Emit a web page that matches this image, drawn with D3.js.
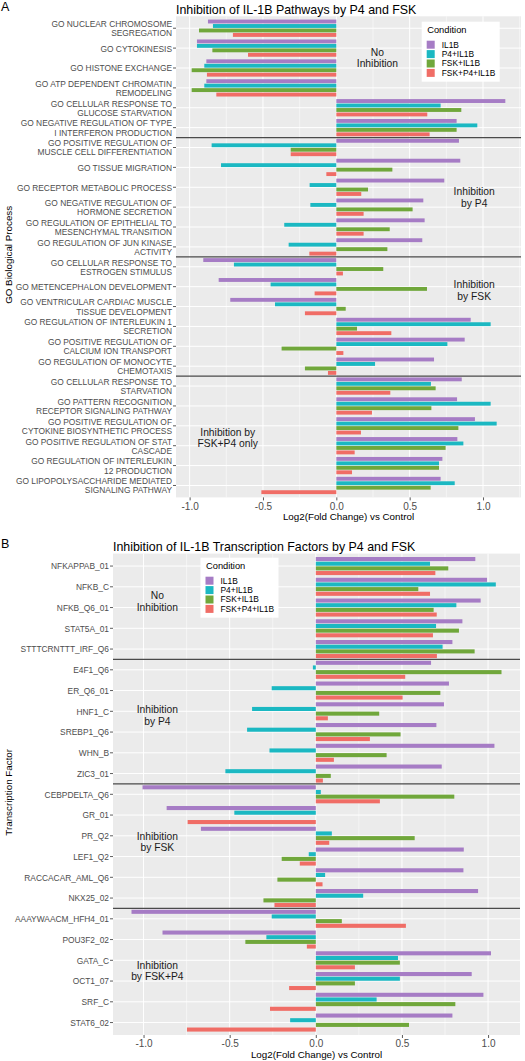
<!DOCTYPE html>
<html><head><meta charset="utf-8">
<script src="https://cdn.jsdelivr.net/npm/d3@7"></script>
<style>
body{margin:0;background:#fff}
svg{display:block}
text{font-family:"Liberation Sans",Arial,Helvetica,sans-serif}
</style>
</head><body>
<svg id="chart" width="525" height="1061"></svg>
<script>
// ---------------- DATA ----------------
const conditions = ["IL1B", "P4+IL1B", "FSK+IL1B", "FSK+P4+IL1B"];
const conditionColors = ["#A67CC5", "#1BB8C2", "#70A73B", "#F06D66"];

const categoriesA = [
  "GO NUCLEAR CHROMOSOME\nSEGREGATION",
  "GO CYTOKINESIS",
  "GO HISTONE EXCHANGE",
  "GO ATP DEPENDENT CHROMATIN\nREMODELING",
  "GO CELLULAR RESPONSE TO\nGLUCOSE STARVATION",
  "GO NEGATIVE REGULATION OF TYPE\nI INTERFERON PRODUCTION",
  "GO POSITIVE REGULATION OF\nMUSCLE CELL DIFFERENTIATION",
  "GO TISSUE MIGRATION",
  "GO RECEPTOR METABOLIC PROCESS",
  "GO NEGATIVE REGULATION OF\nHORMONE SECRETION",
  "GO REGULATION OF EPITHELIAL TO\nMESENCHYMAL TRANSITION",
  "GO REGULATION OF JUN KINASE\nACTIVITY",
  "GO CELLULAR RESPONSE TO\nESTROGEN STIMULUS",
  "GO METENCEPHALON DEVELOPMENT",
  "GO VENTRICULAR CARDIAC MUSCLE\nTISSUE DEVELOPMENT",
  "GO REGULATION OF INTERLEUKIN 1\nSECRETION",
  "GO POSITIVE REGULATION OF\nCALCIUM ION TRANSPORT",
  "GO REGULATION OF MONOCYTE\nCHEMOTAXIS",
  "GO CELLULAR RESPONSE TO\nSTARVATION",
  "GO PATTERN RECOGNITION\nRECEPTOR SIGNALING PATHWAY",
  "GO POSITIVE REGULATION OF\nCYTOKINE BIOSYNTHETIC PROCESS",
  "GO POSITIVE REGULATION OF STAT\nCASCADE",
  "GO REGULATION OF INTERLEUKIN\n12 PRODUCTION",
  "GO LIPOPOLYSACCHARIDE MEDIATED\nSIGNALING PATHWAY"
];
const il1bA  = [-0.875,-0.950,-0.886,-0.886, 1.152, 0.820, 0.836, 0.845, 0.736, 0.593, 0.602, 0.586,-0.907,-0.802,-0.723, 0.916, 0.875, 0.666, 0.855, 0.823, 0.945, 0.825, 0.723, 0.711];
const p4A    = [-0.841,-0.950,-0.900,-0.900, 0.711, 0.961,-0.850,-0.786,-0.182,-0.177,-0.355,-0.325,-0.698,-0.448,-0.418, 1.052, 0.757, 0.264, 0.645, 1.052, 1.093, 0.866, 0.700, 0.807];
const fskA   = [-0.936,-0.845,-0.986,-0.986, 0.852, 0.820,-0.311, 0.382, 0.216, 0.520, 0.364, 0.348, 0.320, 0.618, 0.064, 0.141,-0.373,-0.214, 0.677, 0.648, 0.832, 0.745, 0.700, 0.643];
const fskp4A = [-0.705,-0.602,-0.882,-0.818, 0.620, 0.636,-0.311,-0.068, 0.170, 0.186, 0.186,-0.184, 0.045,-0.148,-0.214, 0.375, 0.048,-0.057, 0.368, 0.243, 0.168, 0.125, 0.107,-0.511];

const categoriesB = [
  "NFKAPPAB_01","NFKB_C","NFKB_Q6_01","STAT5A_01","STTTCRNTTT_IRF_Q6",
  "E4F1_Q6","ER_Q6_01","HNF1_C","SREBP1_Q6","WHN_B","ZIC3_01",
  "CEBPDELTA_Q6","GR_01","PR_Q2","LEF1_Q2","RACCACAR_AML_Q6","NKX25_02",
  "AAAYWAACM_HFH4_01","POU3F2_02","GATA_C","OCT1_07","SRF_C","STAT6_02"
];
const il1bB  = [0.926, 0.994, 0.957, 0.851, 0.793, 0.669, 0.773, 0.744, 0.700, 1.037, 0.731,-1.006,-0.866,-0.667, 0.859, 0.857, 0.942,-1.070,-0.890, 1.017, 0.905, 0.973, 0.793];
const p4B    = [0.663, 1.045, 0.816, 0.698, 0.736,-0.017,-0.256,-0.370,-0.399,-0.269,-0.525, 0.029,-0.473, 0.093,-0.041, 0.054, 0.275,-0.256,-0.287, 0.477, 0.488, 0.353,-0.149];
const fskB   = [0.769, 0.595, 0.684, 0.831, 0.922, 1.078, 0.723, 0.368, 0.492, 0.411, 0.087, 0.804, 0.000, 0.574,-0.198,-0.223,-0.304, 0.151,-0.409, 0.488, 0.227, 0.810, 0.541];
const fskp4B = [0.694, 0.663, 0.702, 0.680, 0.703, 0.519, 0.504, 0.070, 0.314, 0.105, 0.041, 0.372,-0.744, 0.078,-0.093, 0.039,-0.240, 0.523,-0.052, 0.227,-0.155,-0.266,-0.748];

const majorTicks = [-1.0, -0.5, 0.0, 0.5, 1.0];
const majorTickLabels = ["-1.0", "-0.5", "0.0", "0.5", "1.0"];
const minorTicks = [-1.25, -0.75, -0.25, 0.25, 0.75, 1.25];

const groupBreaksA = [6, 12, 18];
const groupBreaksB = [5, 11, 17];

const annotationTextA = [["No","Inhibition"],["Inhibition","by P4"],["Inhibition","by FSK"],["Inhibition by","FSK+P4 only"]];
const annotationTextB = [["No","Inhibition"],["Inhibition","by P4"],["Inhibition","by FSK"],["Inhibition","by FSK+P4"]];

// ---------------- DRAWING ----------------
const svg = d3.select("#chart");

function drawPanel(cfg) {
  const g = svg.append("g");
  const series = cfg.series;
  const all = series.flat();
  const ext = d3.extent(all);
  const pad = (ext[1] - ext[0]) * 0.05;
  const x = d3.scaleLinear().domain([ext[0] - pad, ext[1] + pad]).range([cfg.left, cfg.right]);
  const y = d3.scaleBand().domain(cfg.categories).range([cfg.top, cfg.bottom]).paddingInner(0).paddingOuter(0.1);
  const sub = d3.scaleBand().domain(conditions).range([0, y.bandwidth()]).paddingInner(0).paddingOuter(0.2222);
  const color = d3.scaleOrdinal().domain(conditions).range(conditionColors);

  // panel background
  g.append("rect").attr("x", cfg.left).attr("y", cfg.top)
    .attr("width", cfg.right - cfg.left).attr("height", cfg.bottom - cfg.top)
    .attr("fill", "#EBEBEB");

  // minor grid
  g.selectAll(".minor").data(minorTicks.filter(t => t > x.domain()[0] && t < x.domain()[1])).join("line")
    .attr("x1", d => x(d)).attr("x2", d => x(d)).attr("y1", cfg.top).attr("y2", cfg.bottom)
    .attr("stroke", "#fff").attr("stroke-width", 0.5);
  // major grid
  g.selectAll(".major").data(majorTicks).join("line")
    .attr("x1", d => x(d)).attr("x2", d => x(d)).attr("y1", cfg.top).attr("y2", cfg.bottom)
    .attr("stroke", "#fff").attr("stroke-width", 1);
  g.selectAll(".hgrid").data(cfg.categories).join("line")
    .attr("x1", cfg.left).attr("x2", cfg.right)
    .attr("y1", d => y(d) + y.bandwidth() / 2).attr("y2", d => y(d) + y.bandwidth() / 2)
    .attr("stroke", "#fff").attr("stroke-width", 1);

  // bars
  const rows = [];
  cfg.categories.forEach((c, i) => conditions.forEach((cond, j) => rows.push({c, cond, v: series[j][i]})));
  g.selectAll(".bar").data(rows).join("rect")
    .attr("x", d => Math.min(x(0), x(d.v)))
    .attr("width", d => Math.abs(x(d.v) - x(0)))
    .attr("y", d => y(d.c) + sub(d.cond) + 0.3)
    .attr("height", sub.bandwidth() - 0.6)
    .attr("fill", d => color(d.cond));

  // group separators
  g.selectAll(".sep").data(cfg.breaks).join("line")
    .attr("x1", cfg.left).attr("x2", cfg.right)
    .attr("y1", d => y(cfg.categories[d]) ).attr("y2", d => y(cfg.categories[d]))
    .attr("stroke", "#4a4a4a").attr("stroke-width", 1.3);

  // x axis
  const xAxis = d3.axisBottom(x).tickValues(majorTicks).tickSize(3).tickPadding(2)
    .tickFormat((d, i) => majorTickLabels[i]);
  const xa = g.append("g").attr("transform", `translate(0,${cfg.bottom})`).call(xAxis);
  xa.select(".domain").remove();
  xa.selectAll(".tick line").attr("stroke", "#333").attr("stroke-width", 0.8);
  xa.selectAll(".tick text").attr("fill", "#4D4D4D").attr("font-size", 10).attr("dy", null).attr("y", 12.3)
    .style("font-family", '"Liberation Sans",Arial,sans-serif');

  // y axis ticks
  const yAxis = d3.axisLeft(y).tickSize(3).tickFormat("");
  const ya = g.append("g").attr("transform", `translate(${cfg.left},0)`).call(yAxis);
  ya.select(".domain").remove();
  ya.selectAll(".tick line").attr("stroke", "#333").attr("stroke-width", 0.8);

  // y labels (multi-line)
  const lab = g.selectAll(".ylab").data(cfg.categories).join("text")
    .attr("text-anchor", "end").attr("font-size", 8.4).attr("fill", "#4D4D4D");
  lab.each(function(d) {
    const lines = d.split("\n");
    const cy = y(d) + y.bandwidth() / 2 + 0.4;
    d3.select(this).selectAll("tspan").data(lines).join("tspan")
      .attr("x", cfg.left - 4)
      .attr("y", (t, i) => cy + (i - (lines.length - 1) / 2) * 9.1 + 3)
      .text(t => t);
  });

  // titles
  svg.append("text").attr("x", cfg.left).attr("y", cfg.titleY).attr("font-size", 12.4).attr("fill", "#000").text(cfg.title);
  svg.append("text").attr("x", 1).attr("y", cfg.letterY).attr("font-size", 12.5).attr("fill", "#000").text(cfg.letter);
  svg.append("text").attr("x", (cfg.left + cfg.right) / 2).attr("y", cfg.bottom + 23)
    .attr("text-anchor", "middle").attr("font-size", 9.8).attr("fill", "#000").text("Log2(Fold Change) vs Control");
  svg.append("text").attr("transform", `translate(12,${(cfg.top + cfg.bottom) / 2 - 2}) rotate(-90)`)
    .attr("text-anchor", "middle").attr("font-size", 9.8).attr("fill", "#000").text(cfg.yTitle);

  // annotations (placed in data coordinates)
  const step = y.step();
  cfg.notes.forEach((n, i) => {
    const cy = cfg.top + step * (0.6 + n.k);
    const t = g.append("text").attr("text-anchor", "middle").attr("font-size", 10.3).attr("fill", "#1a1a1a");
    cfg.noteText[i].forEach((line, li) => {
      t.append("tspan").attr("x", x(n.v)).attr("y", cy + (li - 0.5) * 11.5 + 3.6).text(line);
    });
  });

  // legend
  const lg = g.append("g").attr("transform", `translate(${cfg.legendX},${cfg.legendY})`);
  lg.append("rect").attr("width", 78).attr("height", 60).attr("fill", "#fff");
  lg.append("text").attr("x", 5.5).attr("y", 11).attr("font-size", 9.3).attr("fill", "#000").text("Condition");
  conditions.forEach((c, i) => {
    lg.append("rect").attr("x", 5).attr("y", 19 + i * 9.4).attr("width", 8).attr("height", 8).attr("fill", color(c));
    lg.append("text").attr("x", 20).attr("y", 19 + i * 9.4 + 7).attr("font-size", 8.4).attr("fill", "#000").text(c);
  });
}

drawPanel({
  categories: categoriesA, series: [il1bA, p4A, fskA, fskp4A], breaks: groupBreaksA,
  left: 176, right: 521, top: 16.3, bottom: 497.4,
  title: "Inhibition of IL-1B Pathways by P4 and FSK", titleY: 13.8, letter: "A", letterY: 10.5,
  yTitle: "GO Biological Process",
  legendX: 421.7, legendY: 21.7,
  noteText: annotationTextA,
  notes: [{v: 0.28, k: 1.5}, {v: 0.94, k: 8.5}, {v: 0.94, k: 13.2}, {v: -0.74, k: 20.6}]
});

drawPanel({
  categories: categoriesB, series: [il1bB, p4B, fskB, fskp4B], breaks: groupBreaksB,
  left: 113, right: 520, top: 553.6, bottom: 1035,
  title: "Inhibition of IL-1B Transcription Factors by P4 and FSK", titleY: 550.5, letter: "B", letterY: 548.3,
  yTitle: "Transcription Factor",
  legendX: 200.5, legendY: 557.7,
  noteText: annotationTextB,
  notes: [{v: -0.92, k: 1.7}, {v: -0.92, k: 7.2}, {v: -0.92, k: 13.3}, {v: -0.92, k: 19.5}]
});
</script>
</body></html>
